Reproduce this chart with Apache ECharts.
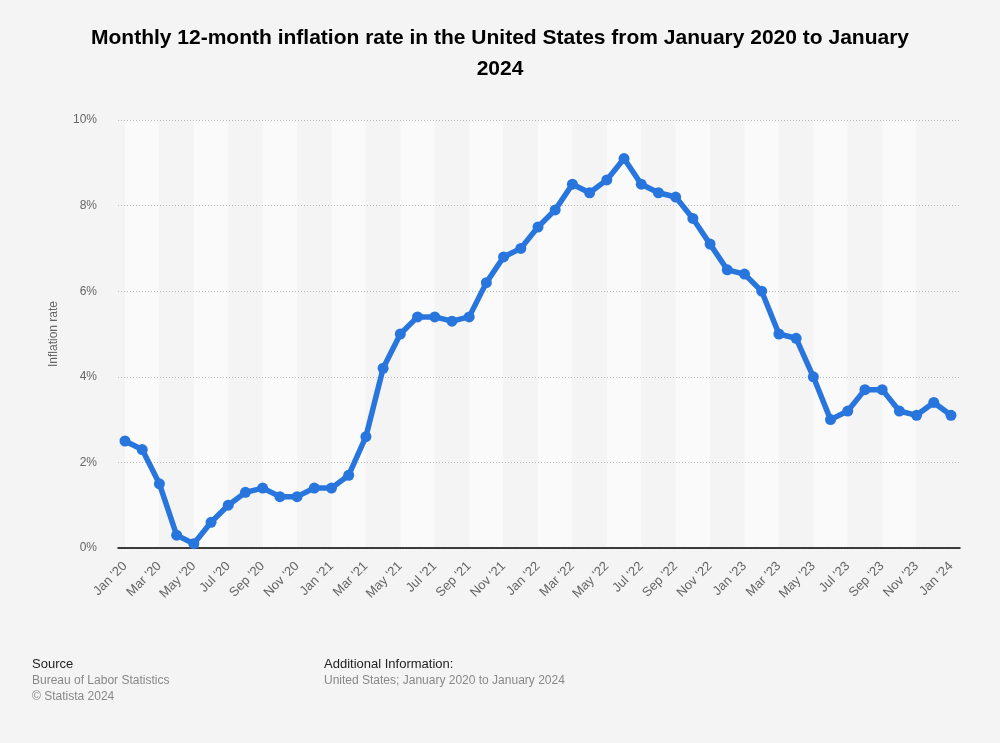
<!DOCTYPE html>
<html lang="en">
<head>
  <meta charset="UTF-8">
  <title>US inflation rate</title>
  <style>
html, body {
  margin: 0;
  padding: 0;
  width: 100%;
  height: 100%;
  background: #f4f4f4;
}

.main {
  width: 1000px;
  height: 743px;
}
  </style>
</head>
<body>
<div class="main"></div>
<script src="https://cdn.jsdelivr.net/npm/echarts@6/dist/echarts.min.js"></script>
<script>
var months = [
  "Jan '20", "Feb '20", "Mar '20", "Apr '20", "May '20", "Jun '20", "Jul '20", "Aug '20", "Sep '20", "Oct '20", "Nov '20", "Dec '20",
  "Jan '21", "Feb '21", "Mar '21", "Apr '21", "May '21", "Jun '21", "Jul '21", "Aug '21", "Sep '21", "Oct '21", "Nov '21", "Dec '21",
  "Jan '22", "Feb '22", "Mar '22", "Apr '22", "May '22", "Jun '22", "Jul '22", "Aug '22", "Sep '22", "Oct '22", "Nov '22", "Dec '22",
  "Jan '23", "Feb '23", "Mar '23", "Apr '23", "May '23", "Jun '23", "Jul '23", "Aug '23", "Sep '23", "Oct '23", "Nov '23", "Dec '23",
  "Jan '24"
];

// 12-month inflation rate in percent
var rates = [
  2.5, 2.3, 1.5, 0.3, 0.1, 0.6, 1.0, 1.3, 1.4, 1.2, 1.2, 1.4,
  1.4, 1.7, 2.6, 4.2, 5.0, 5.4, 5.4, 5.3, 5.4, 6.2, 6.8, 7.0,
  7.5, 7.9, 8.5, 8.3, 8.6, 9.1, 8.5, 8.3, 8.2, 7.7, 7.1, 6.5,
  6.4, 6.0, 5.0, 4.9, 4.0, 3.0, 3.2, 3.7, 3.7, 3.2, 3.1, 3.4,
  3.1
];

var yMin = 0, yMax = 10, yStep = 2;

var chart = echarts.init(document.querySelector('.main'));
var font = 'Liberation Sans, Arial, sans-serif';

chart.setOption({
  backgroundColor: '#f4f4f4',
  textStyle: { fontFamily: font },
  title: {
    text: 'Monthly 12-month inflation rate in the United States from January 2020 to January\n2024',
    left: 'center',
    top: 18,
    textStyle: { fontSize: 21, fontWeight: 'bold', color: '#000', lineHeight: 31, fontFamily: font }
  },
  grid: [
    { left: 118, right: 40, top: 120, bottom: 195 },
    { left: 125, right: 49, top: 120, bottom: 195 }
  ],
  xAxis: [
    {
      gridIndex: 0, type: 'value', min: 0, max: 1, z: 3,
      axisLine: { show: true, lineStyle: { color: '#000', width: 1.5 } },
      axisTick: { show: false }, axisLabel: { show: false }, splitLine: { show: false }
    },
    {
      gridIndex: 1, type: 'category', data: months, boundaryGap: false, z: 0,
      axisLine: { show: false }, axisTick: { show: false },
      axisLabel: { interval: 1, rotate: 45, color: '#666', fontSize: 13, margin: 16, fontFamily: font },
      splitLine: { show: false },
      splitArea: { show: true, interval: 1, areaStyle: { color: ['#fafafa', '#f4f4f4'] } }
    }
  ],
  yAxis: [
    {
      gridIndex: 0, type: 'value', min: yMin, max: yMax, interval: yStep, z: 3,
      name: 'Inflation rate', nameLocation: 'middle', nameGap: 58, nameRotate: 90,
      nameTextStyle: { color: '#666', fontSize: 12, fontFamily: font },
      axisLine: { show: false }, axisTick: { show: false },
      axisLabel: { formatter: '{value}%', color: '#666', fontSize: 12, margin: 21, fontFamily: font, padding: [3, 0, 0, 0] },
      splitLine: { show: true, lineStyle: { color: '#bbb', type: [1, 2], width: 1 } }
    },
    {
      gridIndex: 1, type: 'value', min: yMin, max: yMax, interval: yStep,
      show: false, splitLine: { show: false }
    }
  ],
  series: [{
    type: 'line',
    xAxisIndex: 1,
    yAxisIndex: 1,
    data: rates,
    symbol: 'circle',
    symbolSize: 11,
    z: 5,
    itemStyle: { color: '#2876dd' },
    lineStyle: { color: '#2876dd', width: 5.5 }
  }],
  graphic: [
    { type: 'text', left: 32, top: 658, style: { text: 'Source', fill: '#222', font: '13px ' + font } },
    { type: 'text', left: 32, top: 675, style: { text: 'Bureau of Labor Statistics', fill: '#888', font: '12px ' + font } },
    { type: 'text', left: 32, top: 691, style: { text: '\u00a9 Statista 2024', fill: '#888', font: '12px ' + font } },
    { type: 'text', left: 324, top: 658, style: { text: 'Additional Information:', fill: '#222', font: '13px ' + font } },
    { type: 'text', left: 324, top: 675, style: { text: 'United States; January 2020 to January 2024', fill: '#888', font: '12px ' + font } }
  ]
});
</script>
</body>
</html>
